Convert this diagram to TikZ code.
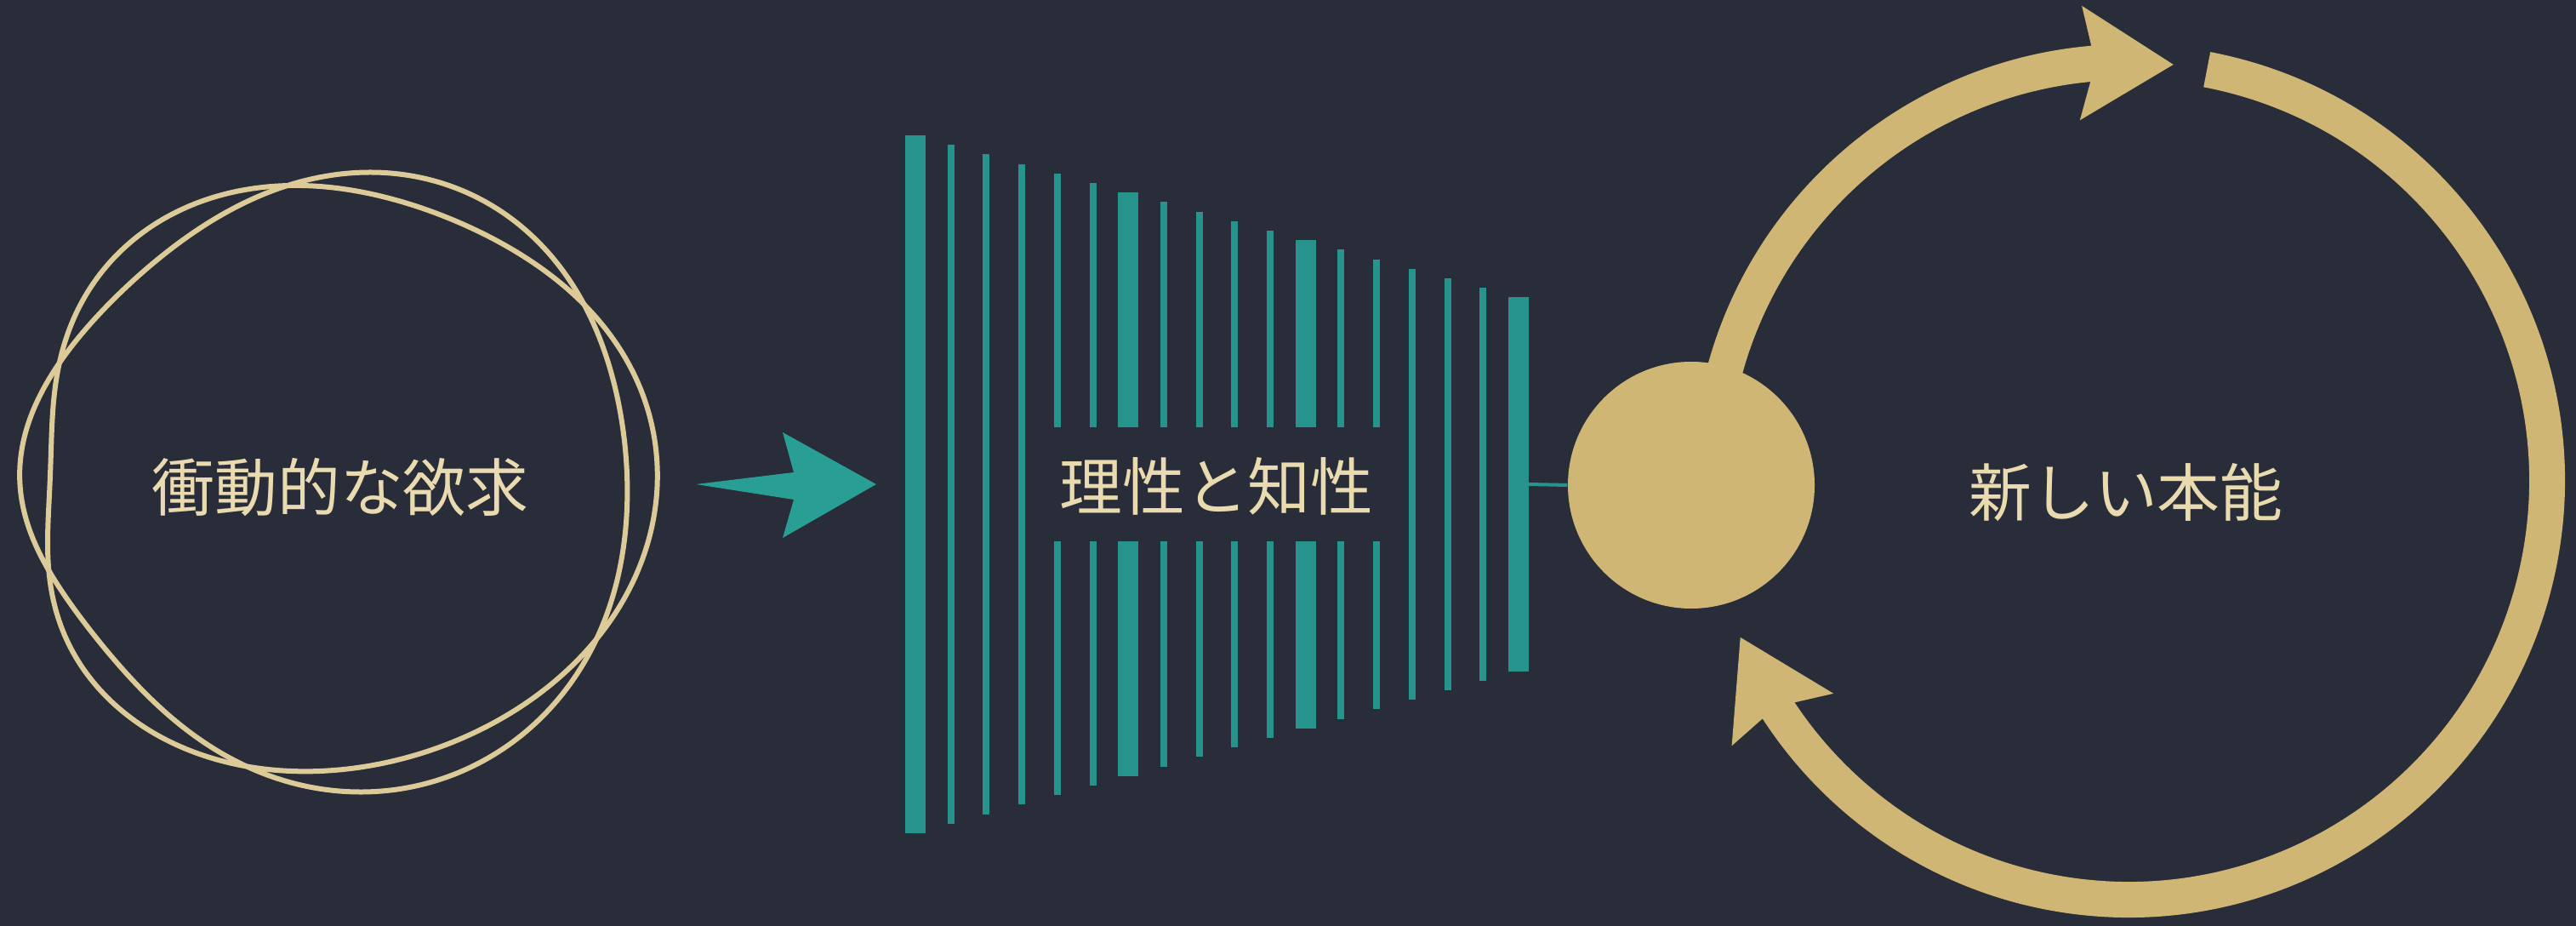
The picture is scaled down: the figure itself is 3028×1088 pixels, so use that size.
\documentclass[tikz,border=0pt]{standalone}
\usepackage{fontspec}
\newfontfamily\jpfont{Noto Sans CJK JP}
\usetikzlibrary{arrows.meta,bending}
\definecolor{bgc}{RGB}{41,45,58}
\definecolor{goldc}{RGB}{208,182,116}
\definecolor{ringc}{RGB}{220,203,152}
\definecolor{txtc}{RGB}{234,218,176}
\definecolor{tealc}{RGB}{38,148,140}
\definecolor{tealA}{RGB}{40,158,148}
\begin{document}
\begin{tikzpicture}[x=0.1mm,y=-0.1mm,
  ring/.style={draw=ringc,line width=0.6mm},
  lbl/.style={text=txtc,font=\jpfont\fontsize{21pt}{25pt}\selectfont,inner sep=0pt},
  loopline/.style={draw=goldc,line width=4.2mm},
  loophead/.style={-{Stealth[length=10.7mm,width=12.9mm,inset=1.5mm,flex]}},
  declare function={wa(\t)=\t+0.72*(-2.2+19*sin(\t)+4*cos(\t)-4.6*sin(2*\t)+3.3*cos(2*\t));}
]
\fill[bgc] (0,0) rectangle (3028,1088);
\useasboundingbox (0,0) rectangle (3028,1088);

% ---- left: two wobbly rings ----
\draw[ring] plot[domain=0:360,samples=241,smooth,variable=\t]
  ({398+(357+18*cos(3*\t))*cos(wa(\t))},{565-(352+18*cos(3*\t))*sin(wa(\t))}) -- cycle;
\draw[ring] plot[domain=0:360,samples=241,smooth,variable=\t]
  ({398+(357-18*cos(3*\t))*cos(wa(\t))},{565-(352-18*cos(3*\t))*sin(wa(\t))}) -- cycle;
\node[lbl] (impulse) at (400,572) {衝動的な欲求};

% ---- teal arrow ----
\fill[tealA] (818,569) -- (933,555) -- (920,508) -- (1030,569) -- (920,632) -- (933,587) -- cycle;

% ---- bars ----
\foreach \i in {1,...,18} {
  \pgfmathsetmacro{\bx}{1076+41.7*(\i-1)}
  \pgfmathsetmacro{\bt}{159+11.2*(\i-1)}
  \pgfmathsetmacro{\bb}{979-11.2*(\i-1)}
  \pgfmathsetmacro{\bw}{(\i==1||\i==7||\i==12||\i==18) ? 2.4 : 0.8}
  \pgfmathtruncatemacro{\bsplit}{(\i>4 && \i<15) ? 1 : 0}
  \ifnum\bsplit=1
    \draw[draw=tealc,line width=\bw mm] (\bx,\bt) -- (\bx,502);
    \draw[draw=tealc,line width=\bw mm] (\bx,636) -- (\bx,\bb);
  \else
    \draw[draw=tealc,line width=\bw mm] (\bx,\bt) -- (\bx,\bb);
  \fi
}
\node[lbl] (reason) at (1430,571) {理性と知性};
\coordinate (barEnd) at (1797,569);

% ---- loop ----
\coordinate (lc) at (2502,565);
\draw[loopline,loophead] ([shift={(-172:492)}]lc) arc[start angle=-172,end angle=-83.8,radius=492];
\draw[loopline,loophead] ([shift={(-79.2:492)}]lc) arc[start angle=-79.2,end angle=158.1,radius=492];

\node[circle,fill=goldc,minimum size=29mm,inner sep=0pt] (hub) at (1988,570) {};
\draw[draw=tealc,line width=0.4mm] (barEnd) -- (hub.west);
\node[lbl] (instinct) at (2499,579) {新しい本能};
\end{tikzpicture}
\end{document}
